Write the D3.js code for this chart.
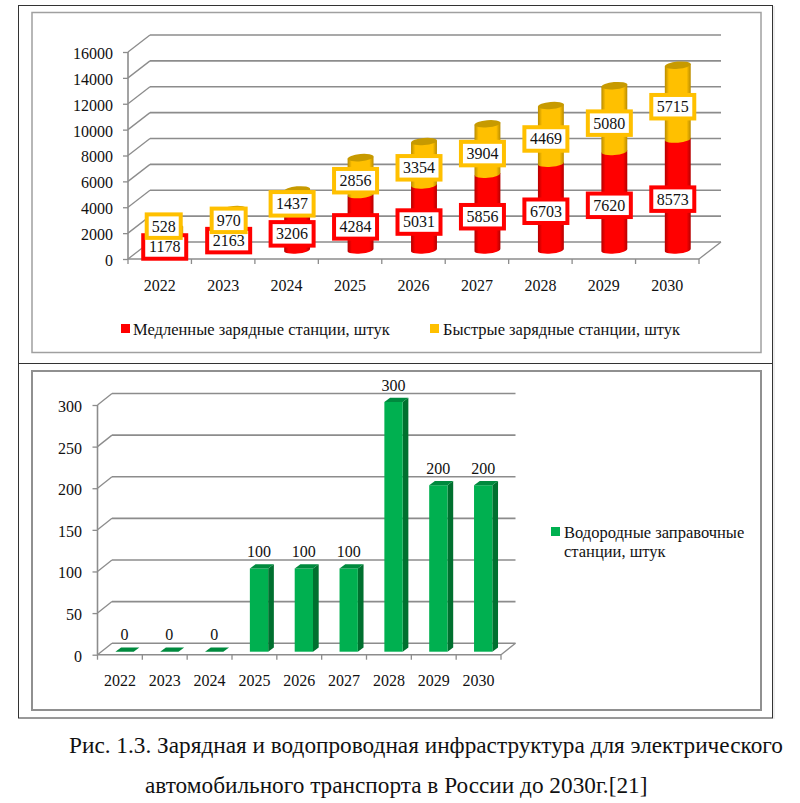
<!DOCTYPE html>
<html><head><meta charset="utf-8">
<script src="https://cdn.jsdelivr.net/npm/d3@7/dist/d3.min.js"></script>
<style>
html,body{margin:0;padding:0;background:#fff}
svg{display:block}
text{font-family:"Liberation Serif","Times New Roman",serif;fill:#111}
</style></head><body>
<svg id="c" width="800" height="803"></svg>
<script>
const years = ["2022","2023","2024","2025","2026","2027","2028","2029","2030"];
const slowStations = [1178,2163,3206,4284,5031,5856,6703,7620,8573];
const fastStations = [528,970,1437,2856,3354,3904,4469,5080,5715];
const hydrogenStations = [0,0,0,100,100,100,300,200,200];
const chargeTicks = [0,2000,4000,6000,8000,10000,12000,14000,16000];
const hydrogenTicks = [0,50,100,150,200,250,300];
const slowName = "Медленные зарядные станции, штук";
const fastName = "Быстрые зарядные станции, штук";
const hydrogenName = ["Водородные заправочные","станции, штук"];
const captionLines = ["Рис. 1.3. Зарядная и водопроводная инфраструктура для электрического","автомобильного транспорта в России до 2030г.[21]"];

const svg = d3.select("#c");
const GRID="#8c8c8c", RED="#ff0000", YEL="#ffc000", GRN="#00b050";
const defs = svg.append("defs");
function grad(id,edge,mid){
  const g=defs.append("linearGradient").attr("id",id).attr("x1",0).attr("x2",1).attr("y1",0).attr("y2",0);
  [[0,edge],[.16,mid],[.84,mid],[1,edge]].forEach(s=>g.append("stop").attr("offset",s[0]).attr("stop-color",s[1]));
}
grad("gRed","#b30000",RED); grad("gYel","#b98c00",YEL);

// frames
svg.append("rect").attr("x",18.5).attr("y",5.5).attr("width",754).attr("height",358).attr("fill","none").attr("stroke","#333");
svg.append("rect").attr("x",18.5).attr("y",363.5).attr("width",754).attr("height",354.5).attr("fill","none").attr("stroke","#333");
svg.append("line").attr("x1",774).attr("x2",774).attr("y1",6).attr("y2",719).attr("stroke","#ddd").attr("stroke-width",1);
svg.append("rect").attr("x",32).attr("y",12.5).attr("width",729).attr("height",340).attr("fill","none").attr("stroke","#a0a0a0").attr("stroke-width",1.5);
svg.append("rect").attr("x",32).attr("y",371).attr("width",729).attr("height",339).attr("fill","none").attr("stroke","#909090").attr("stroke-width",2);

function frame3d(g,x,y,ticks,dx,dy,fs,tickSz,pad,catY){
  const [x0,x1]=x.range(), y0=y.range()[0], yTop=y(ticks[ticks.length-1]);
  const line=(a,b,c,d,w)=>g.append("line").attr("x1",a).attr("y1",b).attr("x2",c).attr("y2",d).attr("stroke",GRID).attr("stroke-width",w||1.6);
  ticks.forEach(t=>{
    line(x0,y(t),x0+dx,y(t)+dy,1.3);
    line(x0+dx,y(t)+dy,x1+dx,y(t)+dy);
  });
  line(x1,y0,x1+dx,y0+dy,1.3);
  line(x0,y0,x1,y0);
  line(x0,y0,x0,yTop);
  const ya=d3.axisLeft(y).tickValues(ticks).tickSize(tickSz).tickPadding(pad).tickFormat(d3.format("d"));
  const ga=g.append("g").attr("transform",`translate(${x0},0)`).call(ya);
  ga.select(".domain").remove();
  ga.selectAll("line").attr("stroke",GRID).attr("stroke-width",1.3);
  ga.selectAll("text").attr("font-size",fs).attr("font-family","Liberation Serif").attr("fill","#111").attr("dy","0.4em");
  const xa=d3.axisBottom(x).tickSize(0).tickPadding(catY);
  const gx=g.append("g").attr("transform",`translate(0,${y0})`).call(xa);
  gx.select(".domain").remove();
  gx.selectAll("text").attr("font-size",fs).attr("font-family","Liberation Serif").attr("fill","#111");
  x.domain().concat(["end"]).forEach(c=>{
    const px=c==="end"?x1:x(c);
    line(px,y0,px,y0+5,1.3);
  });
}

// ---- charging chart ----
const g1=svg.append("g");
const x1=d3.scaleBand().domain(years).range([128,699]);
const y1=d3.scaleLinear().domain([0,16000]).range([259,52]);
frame3d(g1,x1,y1,chargeTicks,22,-17,16,5,10,20.4);
const cylRx=13, cylRy=3.6, tilt=-5*Math.PI/180, cylLift=9, cylShift=10.5;
const cdx=cylRx*Math.cos(tilt), cdy=cylRx*Math.sin(tilt);
function cylPath(cx,yb,yt){
  return `M${cx-cdx},${yb-cdy}A${cylRx},${cylRy} -5 0 0 ${cx+cdx},${yb+cdy}L${cx+cdx},${yt+cdy}L${cx-cdx},${yt-cdy}Z`;
}
const cx1=c=>x1(c)+x1.bandwidth()/2+cylShift;
const stack=years.map((c,i)=>({c,slow:slowStations[i],fast:fastStations[i]}));
g1.selectAll("path.slow").data(stack).join("path").attr("class","slow")
  .attr("d",d=>cylPath(cx1(d.c),y1(0)-cylLift,y1(d.slow)-cylLift)).attr("fill","url(#gRed)");
g1.selectAll("path.fast").data(stack).join("path").attr("class","fast")
  .attr("d",d=>cylPath(cx1(d.c),y1(d.slow)-cylLift,y1(d.slow+d.fast)-cylLift)).attr("fill","url(#gYel)");
g1.selectAll("ellipse.cap").data(stack).join("ellipse").attr("class","cap")
  .attr("rx",cylRx).attr("ry",cylRy).attr("fill","#c79a00")
  .attr("transform",d=>`translate(${cx1(d.c)},${y1(d.slow+d.fast)-cylLift}) rotate(-5)`);

function tag(g,cx,cy,txt,col){
  const w=txt.length>3?43:34, h=23.5;
  g.append("rect").attr("x",cx-w/2).attr("y",cy-h/2).attr("width",w).attr("height",h)
    .attr("fill","#fff").attr("stroke",col).attr("stroke-width",4);
  g.append("text").attr("x",cx).attr("y",cy+5.4).attr("text-anchor","middle").attr("font-size",16).text(txt);
}
const labelShift=-5, labelDrop=4.6;
const firstFastNudge=-9.8, firstLabelShift=[-0.5,-1.5];
stack.forEach((d,i)=>{
  const lx=cx1(d.c)+labelShift;
  tag(g1,lx+(i===0?firstLabelShift[0]:0),y1(d.slow/2)-cylLift+labelDrop,String(d.slow),RED);
});
stack.forEach((d,i)=>{
  const lx=cx1(d.c)+labelShift;
  tag(g1,lx+(i===0?firstLabelShift[1]:0),y1(d.slow+d.fast/2)-cylLift+labelDrop+(i===0?firstFastNudge:0),String(d.fast),YEL);
});
const legend=(g,sx,sy,col,lines,tx,base,fs,lh)=>{
  g.append("rect").attr("x",sx).attr("y",sy).attr("width",9).attr("height",9).attr("fill",col);
  lines.forEach((t,i)=>g.append("text").attr("x",tx).attr("y",base+i*lh).attr("font-size",fs).text(t));
};
legend(g1,121,324,RED,[slowName],133,334.5,16.5,0);
legend(g1,430,324,YEL,[fastName],443,334.5,16.5,0);

// ---- hydrogen chart ----
const g2=svg.append("g");
const x2=d3.scaleBand().domain(years).range([97.5,501]);
const y2=d3.scaleLinear().domain([0,300]).range([654.7,405]);
frame3d(g2,x2,y2,hydrogenTicks,14.5,-11.5,16,5,10.5,20);
const barW=18.3, barShift=4.6, barLift=3, sideX=5.7, sideY=4.3;
const hyd=years.map((c,i)=>({c,v:hydrogenStations[i]}));
const bl=c=>x2(c)+x2.bandwidth()/2+barShift-barW/2;
const pts=a=>a.map(p=>p.join(",")).join(" ");
g2.selectAll("polygon.side").data(hyd.filter(d=>d.v>0)).join("polygon").attr("class","side").attr("fill","#00702f")
  .attr("points",d=>{const r=bl(d.c)+barW,b=y2(0)-barLift,t=y2(d.v)-barLift;return pts([[r,b],[r+sideX,b-sideY],[r+sideX,t-sideY],[r,t]]);});
g2.selectAll("rect.front").data(hyd.filter(d=>d.v>0)).join("rect").attr("class","front").attr("fill",GRN)
  .attr("x",d=>bl(d.c)).attr("width",barW).attr("y",d=>y2(d.v)-barLift).attr("height",d=>y2(0)-y2(d.v));
g2.selectAll("polygon.top").data(hyd).join("polygon").attr("class","top").attr("fill","#008a3e")
  .attr("points",d=>{const l=bl(d.c),t=y2(d.v)-barLift;return pts([[l,t],[l+barW,t],[l+barW+sideX,t-sideY],[l+sideX,t-sideY]]);});
g2.selectAll("text.val").data(hyd).join("text").attr("class","val").attr("text-anchor","middle").attr("font-size",16)
  .attr("x",d=>bl(d.c)+barW/2).attr("y",d=>y2(d.v)-barLift-11.5).text(d=>d.v);
legend(g2,551,527,GRN,hydrogenName,564,537.5,16.5,19);

// caption
svg.selectAll("text.cap").data(captionLines).join("text").attr("class","cap")
  .attr("x",(d,i)=>i?145:69).attr("y",(d,i)=>i?793:753).attr("font-size",23.27).attr("fill","#111").text(d=>d);
</script></body></html>
